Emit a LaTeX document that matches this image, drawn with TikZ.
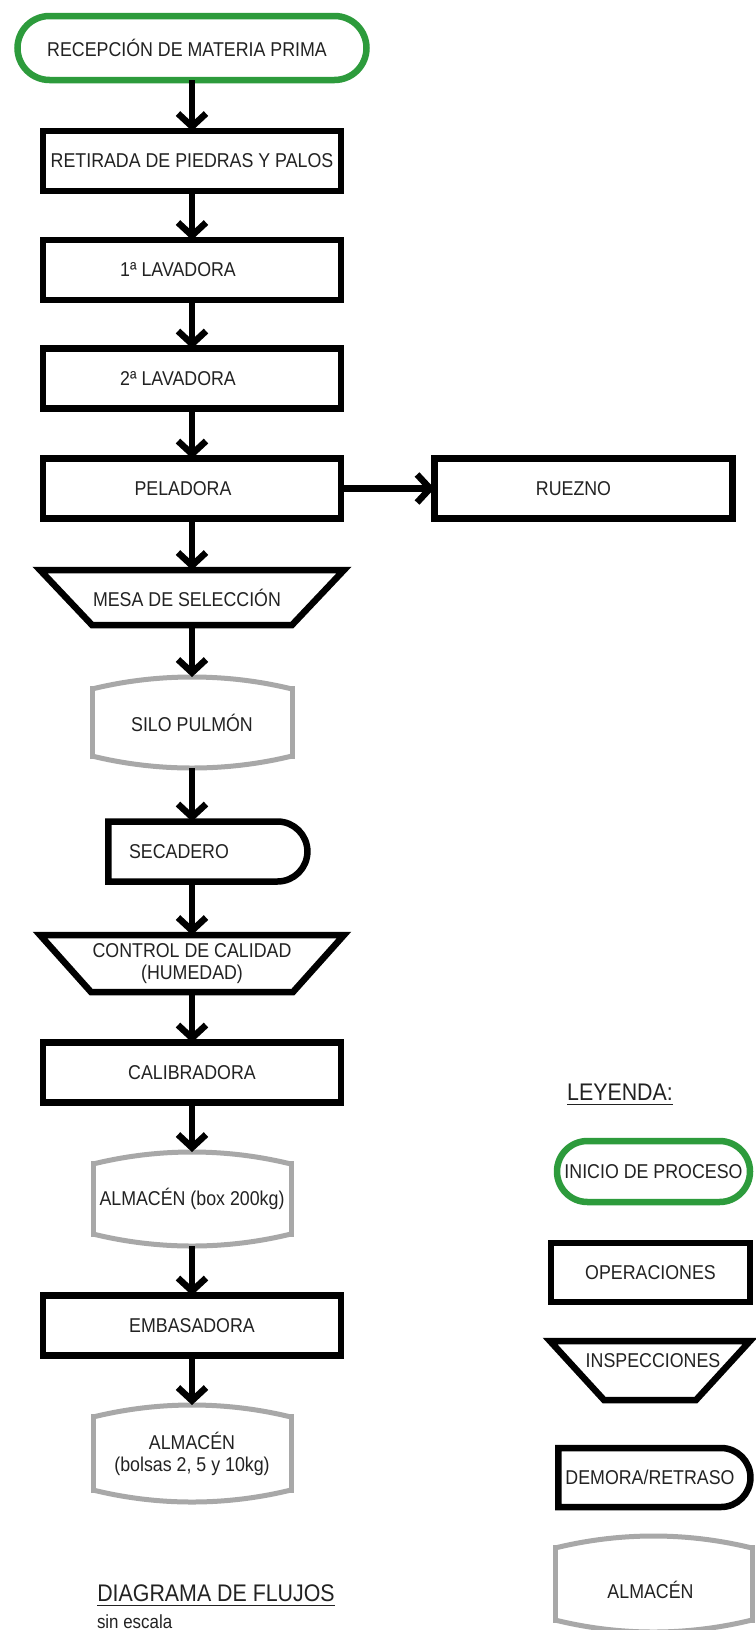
\documentclass[tikz,border=0pt]{standalone}
\usepackage{fontspec}
\setmainfont{Liberation Sans}[FakeStretch=0.89]
\usetikzlibrary{arrows.meta,shapes.misc,calc}
\definecolor{txt}{HTML}{222222}
\definecolor{grn}{RGB}{45,155,60}
\definecolor{gry}{HTML}{A8A8A8}
\newcommand{\drawstore}[1]{%
 \draw[storeline] ($(#1.north west)+(0,9)$) -- ($(#1.south west)+(0,-9)$);
 \draw[storeline] ($(#1.north east)+(0,9)$) -- ($(#1.south east)+(0,-9)$);
 \draw[storeline] ($(#1.north west)+(0,12)$) .. controls ($(#1.north west)+(65,-4)$) and ($(#1.north east)+(-65,-4)$) .. ($(#1.north east)+(0,12)$);
 \draw[storeline] ($(#1.south west)+(0,-12)$) .. controls ($(#1.south west)+(65,4)$) and ($(#1.south east)+(-65,4)$) .. ($(#1.south east)+(0,-12)$);
}
\newcommand{\drawinsp}[2]{%
 \draw[inspline] (#1.north west) -- (#1.north east) -- ($(#1.south east)+(-#2,0)$) -- ($(#1.south west)+(#2,0)$) -- cycle;
}
\begin{document}
\begin{tikzpicture}[x=1pt,y=-1pt,
  every node/.style={font=\fontsize{20pt}{22pt}\selectfont, text=txt, outer sep=0pt, inner sep=2pt, align=center},
  op/.style={draw=black, line width=6.5pt, minimum width=298pt, minimum height=60pt},
  term/.style={draw=grn, line width=6.5pt, rounded rectangle, minimum height=64pt},
  delaybox/.style={draw=black, line width=6.5pt, rounded rectangle, rounded rectangle west arc=none, minimum height=60pt},
  plain/.style={inner sep=0pt},
  inspline/.style={draw=black, line width=6.5pt, line join=miter},
  storeline/.style={draw=gry, line width=5pt},
  arr/.style={draw=black, line width=6.5pt, -{Straight Barb[length=13pt,width=28pt]}},
  bigtxt/.style={font=\fontsize{24pt}{26pt}\selectfont, inner sep=0pt},
  uline/.style={draw=txt, line width=1.5pt},
]
\useasboundingbox (0,0) rectangle (755,1630);
\fill[white] (0,0) rectangle (755,1630);

% main column
\node[term, minimum width=353pt] (start) at (192,48) {\hspace*{-10pt}RECEPCIÓN DE MATERIA PRIMA};
\node[op] (retirada) at (192,161) {RETIRADA DE PIEDRAS Y PALOS};
\node[op] (lav1) at (192,270) {\hspace*{-28pt}1ª LAVADORA};
\node[op] (lav2) at (192,378.5) {\hspace*{-28pt}2ª LAVADORA};
\node[op] (pel) at (192,488.5) {\hspace*{-18pt}PELADORA};
\node[op] (ruez) at (583.5,488.5) {\hspace*{-20pt}RUEZNO};

\node[plain, minimum width=304pt, minimum height=55pt] (mesa) at (192,597.5) {\hspace*{-10pt}MESA DE SELECCIÓN};
\drawinsp{mesa}{52}

\node[plain, minimum width=200pt, minimum height=91pt] (silo) at (192,722.5) {SILO PULMÓN};
\drawstore{silo}

\node[delaybox, minimum width=203pt] (sec) at (207.5,851.5) {\hspace*{-57pt}SECADERO};

\node[plain, minimum width=304pt, minimum height=57pt] (ctrl) at (192,963.5) {CONTROL DE CALIDAD\\(HUMEDAD)};
\drawinsp{ctrl}{51}

\node[op] (cal) at (192,1072.5) {CALIBRADORA};

\node[plain, minimum width=198pt, minimum height=94pt] (alm1) at (192,1199) {ALMACÉN (box 200kg)};
\drawstore{alm1}

\node[op] (emb) at (192,1325.5) {EMBASADORA};

\node[plain, minimum width=198pt, minimum height=97pt] (alm2) at (192,1453.5) {ALMACÉN\\(bolsas 2, 5 y 10kg)};
\drawstore{alm2}

% connectors
\draw[arr] (start) -- (retirada);
\draw[arr] (retirada) -- (lav1);
\draw[arr] (lav1) -- (lav2);
\draw[arr] (lav2) -- (pel);
\draw[arr] (pel) -- (ruez);
\draw[arr] (pel) -- (mesa);
\draw[arr] (mesa) -- (silo);
\draw[arr] (silo) -- (silo.south |- sec.north);
\draw[arr] (ctrl.north |- sec.south) -- (ctrl);
\draw[arr] (ctrl) -- (cal);
\draw[arr] (cal) -- (alm1);
\draw[arr] (alm1) -- (emb);
\draw[arr] (emb) -- (alm2);

% title
\node[bigtxt] (title) at (216,1593) {DIAGRAMA DE FLUJOS};
\draw[uline] ($(title.base west)+(0,4)$) -- ($(title.base east)+(0,4)$);
\node[anchor=west, inner sep=0pt, font=\fontsize{19pt}{21pt}\selectfont] (scale) at (97,1622) {sin escala};

% legend
\node[bigtxt] (ley) at (620,1092) {LEYENDA:};
\draw[uline] ($(ley.base west)+(0,4)$) -- ($(ley.base east)+(0,4)$);

\node[term, minimum width=197pt, minimum height=61pt] (lgterm) at (653.5,1171.5) {INICIO DE PROCESO};
\node[op, minimum width=199pt, minimum height=59pt] (lgop) at (650.5,1272.5) {OPERACIONES};
\node[plain, minimum width=200pt, minimum height=59pt] (lgins) at (650,1370.5) {};
\drawinsp{lgins}{54}
\node (lginstxt) at ($(lgins.center)+(3,-10)$) {INSPECCIONES};
\node[delaybox, minimum width=196pt, minimum height=59pt] (lgdel) at (654,1477.5) {\hspace*{-8pt}DEMORA/RETRASO};
\node[plain, minimum width=197pt, minimum height=96pt] (lgalm) at (653.5,1584) {};
\drawstore{lgalm}
\node (lgalmtxt) at ($(lgalm.center)+(-3,6)$) {ALMACÉN};
\end{tikzpicture}
\end{document}
